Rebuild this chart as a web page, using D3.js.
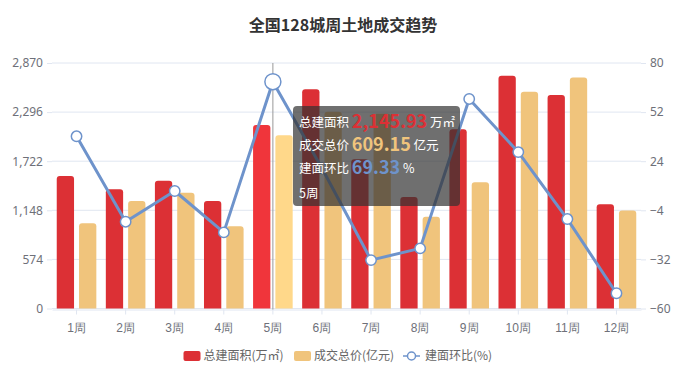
<!DOCTYPE html>
<html><head><meta charset="utf-8">
<script src="https://cdn.jsdelivr.net/npm/d3@7/dist/d3.min.js"></script>
<style>
html,body{margin:0;padding:0;background:#fff;}
svg{display:block;font-family:"Noto Sans CJK SC","Noto Sans",sans-serif;}
</style></head>
<body><svg id="c" width="686" height="374"></svg>
<script>
const title = "全国128城周土地成交趋势";
const categories = ["1周","2周","3周","4周","5周","6周","7周","8周","9周","10周","11周","12周"];
const areaValues = [1549,1393,1494,1257,2145.93,2562,1744,1303,2095,2721,2496,1218];
const priceValues = [300,378,407,289,609.15,692,685,323,444,762,812,345];
const ratioValues = [38.2,-10.5,7.0,-16.6,69.33,20,-32.4,-25.7,59.5,29.2,-9.0,-51.3];
const leftTicks = [0,574,1148,1722,2296,2870];
const rightTicks = [-60,-32,-4,24,52,80];
const legendNames = ["总建面积(万㎡)","成交总价(亿元)","建面环比(%)"];
const highlight = 4;

const W=686,H=374, L=52, R=641, T=63, B=308.5;
const cRed="#DC3035", cYel="#F0C47C", cBlue="#6E93CB";
const svg=d3.select("#c");

const x=d3.scaleBand().domain(categories).range([L,R]);
const yL=d3.scaleLinear().domain([0,2870]).range([B,T]);
const yR=d3.scaleLinear().domain([-60,80]).range([B,T]);
const yP=d3.scaleLinear().domain([0,863.4]).range([B,T]);

// title
svg.append("text").attr("x",343).attr("y",31).attr("text-anchor","middle")
 .attr("font-size",16).attr("font-weight","bold").attr("fill","#333").text(title);

// grid
svg.append("g").selectAll("line").data(leftTicks).join("line")
 .attr("x1",L).attr("x2",R).attr("y1",d=>yL(d)).attr("y2",d=>yL(d))
 .attr("stroke","#E0E6F1").attr("stroke-width",1);

// left axis
const gl=svg.append("g").attr("transform",`translate(${L},0)`)
 .call(d3.axisLeft(yL).tickValues(leftTicks).tickSize(5).tickPadding(4).tickFormat(d3.format(",")));
gl.select(".domain").remove();
gl.selectAll("line").attr("stroke","#E0E6F1");
gl.selectAll("text").attr("fill","#6E7079").attr("font-size",12).attr("font-family","'Noto Sans',sans-serif");

const gr=svg.append("g").attr("transform",`translate(${R},0)`)
 .call(d3.axisRight(yR).tickValues(rightTicks).tickSize(5).tickPadding(4));
gr.select(".domain").remove();
gr.selectAll("line").attr("stroke","#E0E6F1");
gr.selectAll("text").attr("fill","#6E7079").attr("font-size",12).attr("font-family","'Noto Sans',sans-serif");

// x axis
const gx=svg.append("g").attr("transform",`translate(0,${B+1})`)
 .call(d3.axisBottom(x).tickSize(5).tickPadding(9).tickSizeOuter(0));
gx.select(".domain").attr("stroke","#E0E6F1");
gx.selectAll("line").attr("stroke","#E0E6F1");
gx.selectAll("text").attr("fill","#6E7079").attr("font-size",12);

// axis pointer
svg.append("line").attr("x1",x(categories[highlight])+x.bandwidth()/2).attr("x2",x(categories[highlight])+x.bandwidth()/2)
 .attr("y1",T).attr("y2",B+1).attr("stroke","#999").attr("stroke-width",1);

function topRounded(x0,y0,w,h,r){
  r=Math.min(r,h,w/2);
  return `M${x0},${y0+h}V${y0+r}Q${x0},${y0} ${x0+r},${y0}H${x0+w-r}Q${x0+w},${y0} ${x0+w},${y0+r}V${y0+h}Z`;
}
const bw=17.3, gap=5;
svg.append("g").selectAll("path").data(areaValues).join("path")
 .attr("d",(d,i)=>{const c=x(categories[i])+x.bandwidth()/2;return topRounded(c-gap/2-bw,yL(d),bw,B-yL(d),3);})
 .attr("fill",(d,i)=>i===highlight?"#F0353B":cRed);
svg.append("g").selectAll("path").data(priceValues).join("path")
 .attr("d",(d,i)=>{const c=x(categories[i])+x.bandwidth()/2;return topRounded(c+gap/2,yP(d),bw,B-yP(d),3);})
 .attr("fill",(d,i)=>i===highlight?"#FFD88A":cYel);

// line
const line=d3.line().x((d,i)=>x(categories[i])+x.bandwidth()/2).y(d=>yR(d));
svg.append("path").datum(ratioValues).attr("d",line).attr("fill","none")
 .attr("stroke",cBlue).attr("stroke-width",3).attr("stroke-linejoin","round");
svg.append("g").selectAll("circle").data(ratioValues).join("circle")
 .attr("cx",(d,i)=>x(categories[i])+x.bandwidth()/2).attr("cy",d=>yR(d))
 .attr("r",(d,i)=>i===highlight?8:5.2).attr("fill","#fff").attr("stroke",cBlue).attr("stroke-width",1.5);

// tooltip
const tt=svg.append("g").attr("transform","translate(293,106)");
tt.append("rect").attr("width",167).attr("height",100).attr("rx",4).attr("fill","rgba(50,50,50,0.7)");
const rows=[
 {label:"总建面积",val:d3.format(",.2f")(areaValues[highlight]),unit:"万㎡",col:cRed,y:21},
 {label:"成交总价",val:d3.format(",.2f")(priceValues[highlight]),unit:"亿元",col:cYel,y:44},
 {label:"建面环比",val:d3.format(",.2f")(ratioValues[highlight]),unit:"%",col:cBlue,y:67}
];
rows.forEach(r=>{
  const t=tt.append("text").attr("x",6).attr("y",r.y).attr("font-size",12.5).attr("fill","#fff");
  t.append("tspan").text(r.label+" ");
  t.append("tspan").attr("font-size",18).attr("font-weight","bold").attr("fill",r.col).attr("dy",1).text(r.val);
  t.append("tspan").attr("dy",-1).text(" "+r.unit);
});
tt.append("text").attr("x",6).attr("y",92).attr("font-size",12.5).attr("fill","#fff").text(categories[highlight]);

// legend
const lg=svg.append("g").attr("font-size",12).attr("fill","#666");
lg.append("rect").attr("x",183.5).attr("y",351).attr("width",17).attr("height",10).attr("rx",2).attr("fill",cRed);
lg.append("text").attr("x",203.5).attr("y",360).attr("fill","#666").text(legendNames[0]);
lg.append("rect").attr("x",294).attr("y",351).attr("width",17).attr("height",10).attr("rx",2).attr("fill",cYel);
lg.append("text").attr("x",314).attr("y",360).attr("fill","#666").text(legendNames[1]);
lg.append("line").attr("x1",403).attr("x2",420).attr("y1",356).attr("y2",356).attr("stroke",cBlue).attr("stroke-width",1.5);
lg.append("circle").attr("cx",411.5).attr("cy",356).attr("r",4).attr("fill","#fff").attr("stroke",cBlue).attr("stroke-width",1.5);
lg.append("text").attr("x",425).attr("y",360).attr("fill","#666").text(legendNames[2]);
</script></body></html>
